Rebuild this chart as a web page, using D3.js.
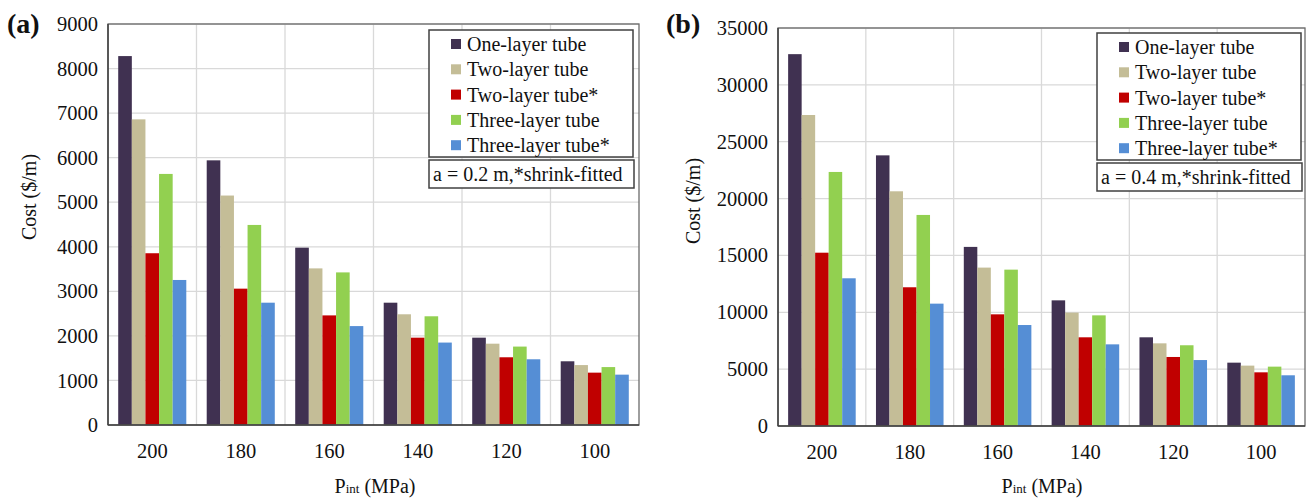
<!DOCTYPE html>
<html><head><meta charset="utf-8">
<script src="https://cdn.jsdelivr.net/npm/d3@7"></script>
<style>body{margin:0;background:#fff}svg{display:block}text{font-family:"Liberation Serif","Times New Roman",serif;fill:#111}</style>
</head><body>
<svg id="c" width="1309" height="499"></svg>
<script>
const categories = ["200","180","160","140","120","100"];
const seriesNames = ["One-layer tube","Two-layer tube","Two-layer tube*","Three-layer tube","Three-layer tube*"];
const seriesColors = ["#403151","#c4bd97","#c00000","#92d050","#558ed5"];
// panel (a) a = 0.2 m
const a_one   = [8280,5940,3980,2745,1960,1430];
const a_two   = [6860,5150,3515,2485,1825,1345];
const a_twoS  = [3855,3060,2460,1960,1520,1175];
const a_three = [5635,4490,3425,2440,1760,1300];
const a_threeS= [3255,2745,2220,1850,1475,1130];
const a_ticks = [0,1000,2000,3000,4000,5000,6000,7000,8000,9000];
// panel (b) a = 0.4 m
const b_one   = [32700,23800,15750,11050,7800,5570];
const b_two   = [27350,20640,13930,9970,7270,5310];
const b_twoS  = [15240,12200,9820,7800,6070,4720];
const b_three = [22340,18560,13750,9730,7100,5220];
const b_threeS= [12990,10760,8880,7180,5800,4460];
const b_ticks = [0,5000,10000,15000,20000,25000,30000,35000];

const svg = d3.select("#c");

function panel(o){
  const g = svg.append("g");
  const x0 = d3.scaleBand().domain(categories).range([o.l,o.r]).padding(0);
  const x1 = d3.scaleBand().domain(seriesNames).range([0,x0.bandwidth()]).paddingInner(0).paddingOuter(0.75);
  const y = d3.scaleLinear().domain([0,o.max]).range([o.b,o.t]);
  // grid
  g.append("g").selectAll("line").data(o.ticks.slice(1)).join("line")
    .attr("x1",o.l).attr("x2",o.r).attr("y1",d=>y(d)).attr("y2",d=>y(d))
    .attr("stroke","#d9d9d9").attr("stroke-width",1.3);
  g.append("g").selectAll("line").data(categories.slice(1)).join("line")
    .attr("x1",d=>x0(d)).attr("x2",d=>x0(d)).attr("y1",o.t).attr("y2",o.b)
    .attr("stroke","#d9d9d9").attr("stroke-width",1.3);
  // bars
  const rows = categories.map((c,i)=>({c, v:o.data.map(s=>s[i])}));
  g.append("g").selectAll("g").data(rows).join("g")
    .attr("transform",d=>`translate(${x0(d.c)},0)`)
    .selectAll("rect").data(d=>d.v.map((v,j)=>({v,j}))).join("rect")
    .attr("x",d=>x1(seriesNames[d.j])).attr("width",x1.bandwidth())
    .attr("y",d=>y(d.v)).attr("height",d=>y(0)-y(d.v))
    .attr("fill",d=>seriesColors[d.j]);
  // frame
  g.append("rect").attr("x",o.l).attr("y",o.t).attr("width",o.r-o.l).attr("height",o.b-o.t)
    .attr("fill","none").attr("stroke","#6b6b6b").attr("stroke-width",1.3);
  g.append("line").attr("x1",o.l).attr("x2",o.l).attr("y1",o.t).attr("y2",o.b).attr("stroke","#404040").attr("stroke-width",1.5);
  g.append("line").attr("x1",o.l).attr("x2",o.r).attr("y1",o.b).attr("y2",o.b).attr("stroke","#404040").attr("stroke-width",1.5);
  // y axis
  const ya = g.append("g").attr("transform",`translate(${o.l},0)`)
    .call(d3.axisLeft(y).tickValues(o.ticks).tickSize(0).tickPadding(10).tickFormat(d3.format("d")));
  ya.select(".domain").remove();
  ya.selectAll("text").style("font-family",'"Liberation Serif",serif').style("font-size","20.5px").attr("fill","#111");
  // x axis
  const xa = g.append("g").attr("transform",`translate(0,${o.b})`)
    .call(d3.axisBottom(x0).tickSize(0).tickPadding(18));
  xa.select(".domain").remove();
  xa.selectAll("text").style("font-family",'"Liberation Serif",serif').style("font-size","20.5px").attr("fill","#111");
  // axis titles
  g.append("text").attr("transform",`translate(${o.ytx},${o.yty}) rotate(-90)`)
    .attr("text-anchor","middle").attr("dy","0.35em").style("font-size","20px").text("Cost ($/m)");
  const xt = g.append("text").attr("x",o.xtx).attr("y",493).attr("text-anchor","middle").style("font-size","20px");
  xt.append("tspan").text("P");
  xt.append("tspan").style("font-size","13px").text("int");
  xt.append("tspan").text(" (MPa)");
  // panel label
  g.append("text").attr("x",o.plx).attr("y",33).style("font-size","28px").style("font-weight","bold").text(o.label);
  // legend
  const lg = g.append("g");
  lg.append("rect").attr("x",o.lx).attr("y",o.ly).attr("width",o.lw).attr("height",127)
    .attr("fill","#fff").attr("stroke","#404040").attr("stroke-width",1.5);
  const it = lg.selectAll("g").data(seriesNames).join("g")
    .attr("transform",(d,i)=>`translate(${o.lx+22},${o.ly+14+i*25.3})`);
  it.append("rect").attr("x",0).attr("y",-5).attr("width",10).attr("height",10).attr("fill",(d,i)=>seriesColors[i]);
  it.append("text").attr("x",16).attr("dy","0.35em").style("font-size","20px").text(d=>d);
  lg.append("rect").attr("x",o.lx).attr("y",o.ly+130).attr("width",o.lw+1).attr("height",28)
    .attr("fill","#fff").attr("stroke","#404040").attr("stroke-width",1.5);
  lg.append("text").attr("x",o.lx+4).attr("y",o.ly+144).attr("dy","0.35em").style("font-size","20px").text(o.note);
}

panel({l:108,r:639,t:24,b:425,max:9000,ticks:a_ticks,data:[a_one,a_two,a_twoS,a_three,a_threeS],
  ytx:29,yty:197,xtx:375,plx:7,label:"(a)",lx:429,ly:30,lw:204,note:"a = 0.2 m,*shrink-fitted"});
panel({l:778,r:1305,t:28,b:426,max:35000,ticks:b_ticks,data:[b_one,b_two,b_twoS,b_three,b_threeS],
  ytx:693,yty:201,xtx:1042,plx:666,label:"(b)",lx:1097,ly:33,lw:204,note:"a = 0.4 m,*shrink-fitted"});
</script>
</body></html>
